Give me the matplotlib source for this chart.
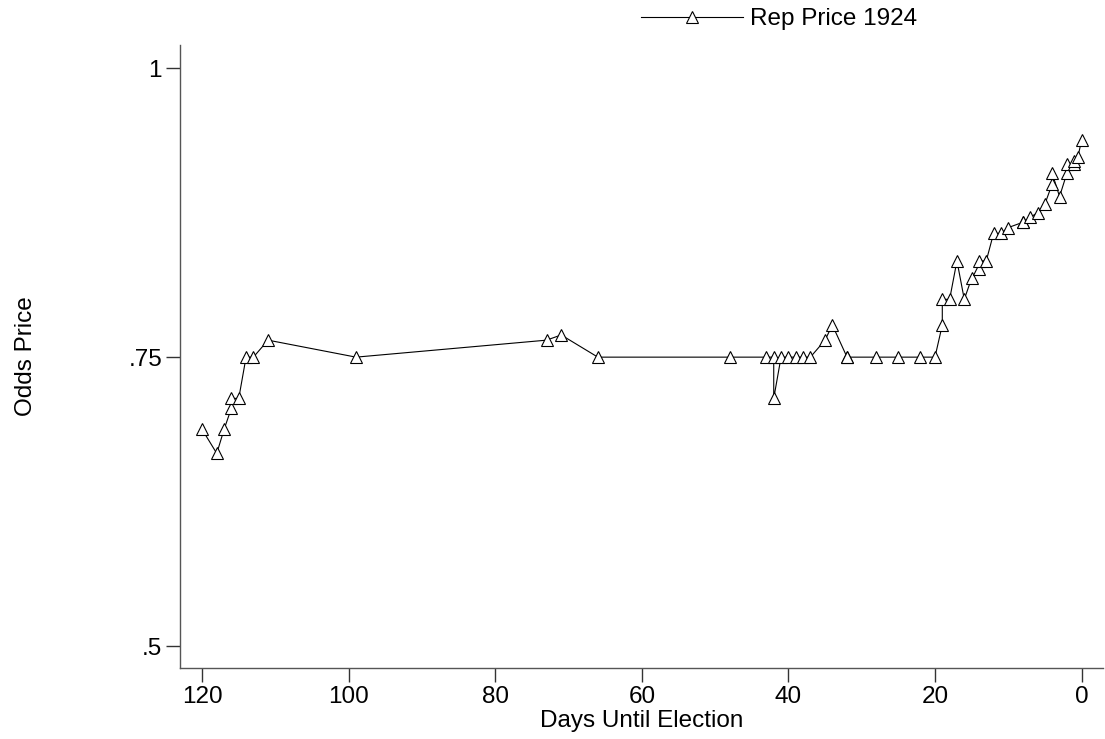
#line plot of 1924 Republican odds price vs days until election

import matplotlib
matplotlib.use('Agg')
import matplotlib.pyplot as plt

#data:
days = [120, 118, 117, 116, 116, 115, 114, 113, 111, 99,
        73, 71, 66, 48, 43, 42, 42, 41, 40, 39,
        38, 37, 35, 34, 32, 32, 28, 25, 22, 20,
        19, 19, 18, 17, 16, 15, 14, 14, 13, 12,
        11, 10, 8, 8, 7, 6, 5, 4, 4, 3,
        2, 2, 1, 1, 0.5, 0]
price = [0.6875, 0.6667, 0.6875, 0.7059, 0.7143, 0.7143, 0.75, 0.75, 0.7647, 0.75,
         0.7647, 0.7692, 0.75, 0.75, 0.75, 0.75, 0.7143, 0.75, 0.75, 0.75,
         0.75, 0.75, 0.7647, 0.7778, 0.75, 0.75, 0.75, 0.75, 0.75, 0.75,
         0.7778, 0.80, 0.80, 0.8333, 0.80, 0.8182, 0.8261, 0.8333, 0.8333, 0.8571,
         0.8571, 0.8621, 0.8667, 0.8667, 0.8710, 0.8750, 0.8824, 0.90, 0.9091, 0.8889,
         0.9091, 0.9167, 0.9167, 0.92, 0.9231, 0.9375]
xticks = [120, 100, 80, 60, 40, 20, 0]
yticks = [0.5, 0.75, 1]
ytick_labels = ['.5', '.75', '1']

plt.rcParams['font.family'] = ['Liberation Sans', 'DejaVu Sans']

fig = plt.figure(figsize=(11.05, 7.39), dpi=100)
ax = fig.add_axes([0.163, 0.096, 0.835, 0.843])

ln, = ax.plot(days, price, color='black', linewidth=0.8, marker='^', markersize=9,
              markerfacecolor='white', markeredgecolor='black', markeredgewidth=0.8,
              label='Rep Price 1924')

ax.set_xlim(123, -2.9)
ax.set_ylim(0.481, 1.02)
ax.set_xticks(xticks)
ax.set_yticks(yticks)
ax.set_yticklabels(ytick_labels)

for s in ['top', 'right']:
    ax.spines[s].set_visible(False)
for s in ['left', 'bottom']:
    ax.spines[s].set_color('#555555')
    ax.spines[s].set_linewidth(1.0)

ax.tick_params(axis='both', labelsize=17.5, length=10, width=1.0, color='#333333', pad=3)

ax.set_xlabel('Days Until Election', fontsize=17.5, labelpad=1)
ax.set_ylabel('Odds Price', fontsize=17.5, labelpad=66)

fig.legend(handles=[ln], loc='center left', bbox_to_anchor=(0.569, 0.974), frameon=False,
           fontsize=17.5, handlelength=4.2, handletextpad=0.3, borderpad=0)

fig.savefig('out.png', dpi=100, facecolor='white')
